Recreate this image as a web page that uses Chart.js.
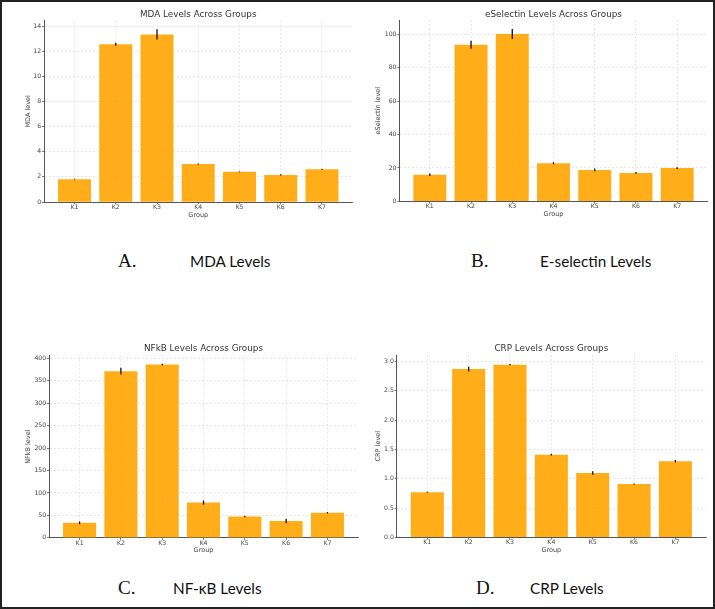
<!DOCTYPE html>
<html>
<head>
<meta charset="utf-8">
<script src="https://cdn.jsdelivr.net/npm/chart.js@4.4.1/dist/chart.umd.min.js"></script>
<style>
  html, body { margin: 0; padding: 0; background: #fff; }
  #page { position: relative; width: 715px; height: 609px; overflow: hidden; background: #fff; }
  .box { position: absolute; }
  .frame { position: absolute; left: 0; top: 0; width: 715px; height: 609px; box-sizing: border-box; border: 2px solid #222; pointer-events: none; z-index: 5; }
  .cap { position: absolute; line-height: 20px; height: 20px; white-space: nowrap; color: #111; }
  .serif { font-family: "Liberation Serif", "DejaVu Serif", serif; font-size: 19px; }
  .sans { font-family: Lato, "Noto Sans", sans-serif; font-size: 15.3px; }
</style>
</head>
<body>
<div id="page">
  <div class="box" style="left:0px;top:0px;width:360px;height:228px;"><canvas id="cA"></canvas></div>
  <div class="box" style="left:355px;top:0px;width:360px;height:228px;"><canvas id="cB"></canvas></div>
  <div class="box" style="left:0px;top:330px;width:362px;height:228px;"><canvas id="cC"></canvas></div>
  <div class="box" style="left:355px;top:330px;width:360px;height:228px;"><canvas id="cD"></canvas></div>

  <div class="cap serif" style="left:118px;top:251px;">A.</div>
  <div class="cap sans" style="left:190px;top:251px;">MDA Levels</div>
  <div class="cap serif" style="left:471px;top:251px;">B.</div>
  <div class="cap sans" style="left:540px;top:251px;">E-selectin Levels</div>
  <div class="cap serif" style="left:118px;top:578px;">C.</div>
  <div class="cap sans" style="left:173px;top:578px;">NF-κB Levels</div>
  <div class="cap serif" style="left:476px;top:578px;">D.</div>
  <div class="cap sans" style="left:530px;top:578px;">CRP Levels</div>

  <div class="frame"></div>
</div>
<script>
// ---- data ----
const categories = ["K1", "K2", "K3", "K4", "K5", "K6", "K7"];

const mdaValues = [1.82, 12.57, 13.35, 3.02, 2.40, 2.16, 2.60];
const mdaErrors = [0.03, 0.12, 0.40, 0.04, 0.03, 0.05, 0.04];
const mdaTicks  = [0, 2, 4, 6, 8, 10, 12, 14];

const eselValues = [15.9, 93.8, 100.2, 22.8, 18.8, 17.0, 19.9];
const eselErrors = [0.7, 2.4, 3.0, 0.6, 0.8, 0.5, 0.5];
const eselTicks  = [0, 20, 40, 60, 80, 100];

const nfkbValues = [33.5, 371.5, 386.5, 78.5, 47.5, 37.5, 56.0];
const nfkbErrors = [3.0, 7.5, 1.5, 4.8, 1.5, 4.8, 1.5];
const nfkbTicks  = [0, 50, 100, 150, 200, 250, 300, 350, 400];

const crpValues = [0.77, 2.87, 2.945, 1.41, 1.10, 0.91, 1.30];
const crpErrors = [0.01, 0.04, 0.01, 0.015, 0.03, 0.01, 0.02];
const crpTicks  = [0.0, 0.5, 1.0, 1.5, 2.0, 2.5, 3.0];

// ---- error bar plugin (uses chart scales) ----
const errorBars = {
  id: 'errorBars',
  afterDatasetsDraw(chart, args, opts) {
    const ctx = chart.ctx, xs = chart.scales.x, ys = chart.scales.y;
    const ds = chart.data.datasets[0];
    const errs = opts.errors || [];
    ctx.save();
    ctx.strokeStyle = '#111';
    ctx.lineWidth = 1.3;
    ds.data.forEach((p, i) => {
      const e = errs[i] || 0;
      const px = xs.getPixelForValue(p.x);
      ctx.beginPath();
      ctx.moveTo(px, ys.getPixelForValue(p.y - e));
      ctx.lineTo(px, ys.getPixelForValue(p.y + e));
      ctx.stroke();
    });
    ctx.restore();
  }
};

const FONT = "'DejaVu Sans', Verdana, sans-serif";

function makeChart(id, c) {
  const w = c.w, h = c.h;
  const titleLH = 8.8 * 1.2;
  const axLH = 6.5 * 1.2;
  new Chart(document.getElementById(id), {
    type: 'bar',
    data: {
      datasets: [{
        data: c.values.map((v, i) => ({ x: i, y: v })),
        backgroundColor: 'rgba(255,165,0,0.9)',
        borderWidth: 0,
        categoryPercentage: 1.0,
        barPercentage: 0.8
      }]
    },
    plugins: [errorBars],
    options: {
      responsive: true,
      maintainAspectRatio: false,
      animation: false,
      devicePixelRatio: 1,
      layout: { padding: { left: 0, top: 0, right: w - c.r, bottom: 0 } },
      plugins: {
        legend: { display: false },
        tooltip: { enabled: false },
        title: {
          display: true,
          text: c.title,
          fullSize: false,
          color: '#333',
          font: { family: FONT, size: 8.8, weight: 'normal', lineHeight: 1.2 },
          padding: { top: c.titleY - titleLH / 2, bottom: c.t - (c.titleY - titleLH / 2) - titleLH }
        },
        errorBars: { errors: c.errors }
      },
      scales: {
        x: {
          type: 'linear',
          offset: false,
          min: -0.74,
          max: 6.74,
          afterBuildTicks: (s) => { s.ticks = categories.map((_, i) => ({ value: i })); },
          afterFit: (s) => { s.height = h - c.b; },
          ticks: {
            autoSkip: false,
            color: '#444',
            padding: 0,
            font: { family: FONT, size: 6.2, lineHeight: 1.0 },
            callback: (v) => categories[v]
          },
          grid: {
            offset: false,
            color: '#dcdcdc', lineWidth: 0.7,
            tickColor: '#555', tickLength: 2, tickWidth: 0.8, tickBorderDash: []
          },
          border: { display: true, color: '#555', width: 1, dash: [2, 2] },
          title: {
            display: true, text: 'Group', color: '#444',
            font: { family: FONT, size: 6.5, lineHeight: 1.2 },
            padding: { top: 0, bottom: h - c.xTitleY - axLH / 2 }
          }
        },
        y: {
          type: 'linear',
          min: 0,
          max: c.yMax,
          afterBuildTicks: (s) => { s.ticks = c.yTicks.map(v => ({ value: v })); },
          afterFit: (s) => { s.width = c.l; },
          ticks: {
            color: '#444',
            padding: 0.8,
            font: { family: FONT, size: 6.2, lineHeight: 1.0 },
            callback: (v) => c.decimals ? Number(v).toFixed(c.decimals) : String(v)
          },
          grid: {
            color: '#dcdcdc', lineWidth: 0.7,
            tickColor: '#555', tickLength: 2, tickWidth: 0.8, tickBorderDash: []
          },
          border: { display: true, color: '#555', width: 1, dash: [2, 2] },
          title: {
            display: true, text: c.yTitle, color: '#444',
            font: { family: FONT, size: 6.5, lineHeight: 1.2 },
            padding: { top: c.yTitleX - axLH / 2, bottom: 0 }
          }
        }
      }
    }
  });
}

makeChart('cA', {
  w: 360, h: 228, l: 44, t: 20.7, r: 352.5, b: 202,
  titleY: 14.3, yTitleX: 28.3, xTitleY: 215,
  title: 'MDA Levels Across Groups', yTitle: 'MDA level',
  values: mdaValues, errors: mdaErrors, yTicks: mdaTicks, yMax: 14.44, decimals: 0
});
makeChart('cB', {
  w: 360, h: 228, l: 44.3, t: 20, r: 352.7, b: 201.3,
  titleY: 14.3, yTitleX: 23.3, xTitleY: 214.3,
  title: 'eSelectin Levels Across Groups', yTitle: 'eSelectin level',
  values: eselValues, errors: eselErrors, yTicks: eselTicks, yMax: 108.6, decimals: 0
});
makeChart('cC', {
  w: 362, h: 228, l: 49, t: 25.5, r: 358, b: 207.8,
  titleY: 19, yTitleX: 28.3, xTitleY: 220,
  title: 'NFkB Levels Across Groups', yTitle: 'NFkB level',
  values: nfkbValues, errors: nfkbErrors, yTicks: nfkbTicks, yMax: 406.5, decimals: 0
});
makeChart('cD', {
  w: 360, h: 228, l: 41.7, t: 25, r: 351, b: 207.4,
  titleY: 19, yTitleX: 23.3, xTitleY: 220,
  title: 'CRP Levels Across Groups', yTitle: 'CRP level',
  values: crpValues, errors: crpErrors, yTicks: crpTicks, yMax: 3.11, decimals: 1
});
</script>
</body>
</html>
